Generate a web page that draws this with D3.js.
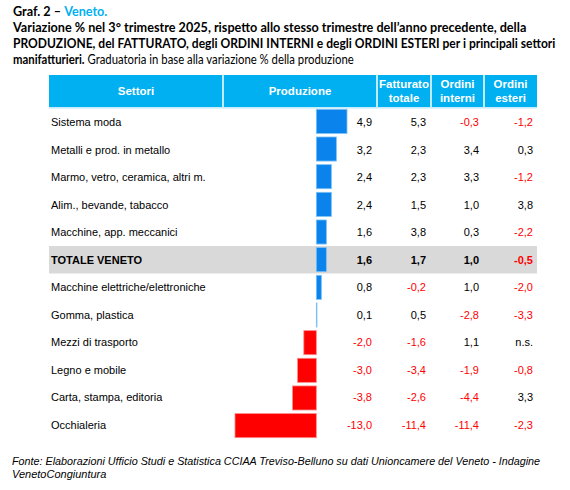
<!DOCTYPE html>
<html><head><meta charset="utf-8">
<script src="https://cdn.jsdelivr.net/npm/d3@7"></script>
<style>body{margin:0;background:#fff}svg{display:block}</style>
</head><body>
<script>
const sectors = ["Sistema moda","Metalli e prod. in metallo","Marmo, vetro, ceramica, altri m.","Alim., bevande, tabacco","Macchine, app. meccanici","TOTALE VENETO","Macchine elettriche/elettroniche","Gomma, plastica","Mezzi di trasporto","Legno e mobile","Carta, stampa, editoria","Occhialeria"];
const produzione = [4.9,3.2,2.4,2.4,1.6,1.6,0.8,0.1,-2.0,-3.0,-3.8,-13.0];
const fatturato = [5.3,2.3,2.3,1.5,3.8,1.7,-0.2,0.5,-1.6,-3.4,-2.6,-11.4];
const ordiniInterni = [-0.3,3.4,3.3,1.0,0.3,1.0,1.0,-2.8,1.1,-1.9,-4.4,-11.4];
const ordiniEsteri = [-1.2,0.3,-1.2,3.8,-2.2,-0.5,-2.0,-3.3,null,-0.8,3.3,-2.3];
const headers = [["Settori"],["Produzione"],["Fatturato","totale"],["Ordini","interni"],["Ordini","esteri"]];
const totalLabel = "TOTALE VENETO";

const W=570,H=490;
const svg=d3.select("body").append("svg").attr("width",W).attr("height",H);
const loc=d3.formatLocale({decimal:",",thousands:".",grouping:[3],currency:["","€"],minus:"-"});
const fmt=loc.format(".1f");
const BLUE_H="#00b0f0";

// Title
function fitLine(parts, x, y, width, size, family){
  const t=svg.append("text").attr("x",0).attr("y",0).attr("font-family",family).attr("font-size",size).attr("fill","#000");
  parts.forEach(p=>t.append("tspan").text(p.t).attr("font-weight",p.b?"bold":"normal").attr("font-style",p.i?"italic":"normal").attr("fill",p.c||"#000"));
  const w=t.node().getComputedTextLength();
  const s=width? width/w : 1;
  t.attr("transform",`translate(${x},${y}) scale(${s},1)`);
  return t;
}
const TF="Lato, 'Open Sans', sans-serif";
fitLine([{t:"Graf. 2 – ",b:1},{t:"Veneto.",b:1,c:BLUE_H}],13,15.7,94,13,TF);
fitLine([{t:"Variazione % nel 3° trimestre 2025, rispetto allo stesso trimestre dell’anno precedente, della",b:1}],13,32,514,13,TF);
fitLine([{t:"PRODUZIONE, del FATTURATO, degli ORDINI INTERNI e degli ORDINI ESTERI per i principali settori",b:1}],13,48,543,13,TF);
fitLine([{t:"manifatturieri.",b:1},{t:" Graduatoria in base alla variazione % della produzione"}],13,63.5,341,13,TF);

// Table geometry
const colEdges=[49,223,377,431,484,537];
const headTop=75, headBot=107;
const y=d3.scaleBand().domain(sectors).range([108.5,438.5]);
const yb=d3.scaleBand().domain(sectors).range([108.5,438.5]).paddingInner(0.13).paddingOuter(0.03);
const x=d3.scaleLinear().domain([-13,4.9]).range([235,347]);

// header
const hg=svg.append("g");
headers.forEach((h,i)=>{
  const x0=colEdges[i]+(i?0.75:0), x1=colEdges[i+1]-(i<4?0.75:0);
  hg.append("rect").attr("x",x0).attr("y",headTop).attr("width",x1-x0).attr("height",headBot-headTop).attr("fill",BLUE_H);
  const cx=(colEdges[i]+colEdges[i+1])/2;
  const t=hg.append("text").attr("text-anchor","middle").attr("font-family","'Liberation Sans', Arial, sans-serif").attr("font-size",11.5).attr("font-weight","bold").attr("fill","#fff");
  if(h.length===1){t.append("tspan").attr("x",cx).attr("y",95).text(h[0]);}
  else{t.append("tspan").attr("x",cx).attr("y",88).text(h[0]);t.append("tspan").attr("x",cx).attr("y",102).text(h[1]);}
});
svg.append("rect").attr("x",49).attr("y",107).attr("width",488).attr("height",1.6).attr("fill","#c6ebfb");

// total row background
svg.append("rect").attr("x",49).attr("y",y(totalLabel)).attr("width",488).attr("height",y.bandwidth()).attr("fill","#d9d9d9");

// bars
const x0=x(0);
svg.append("g").selectAll("rect").data(produzione).join("rect")
  .attr("x",d=>Math.min(x(d),x0)).attr("width",d=>Math.max(Math.abs(x(d)-x0),0.6))
  .attr("y",(d,i)=>yb(sectors[i])).attr("height",yb.bandwidth())
  .attr("fill",d=>d>=0?"#0a84ec":"#ff0000")
  .attr("stroke",d=>d>=0?"#7cc0f6":"#ff8a8a").attr("stroke-width",0.8);

// labels
const FF="'Liberation Sans', Arial, sans-serif";
const rowG=svg.append("g").attr("font-family",FF).attr("font-size",11);
sectors.forEach((s,i)=>{
  const cy=y(s)+y.bandwidth()/2+4;
  const bold=s===totalLabel;
  rowG.append("text").attr("x",51).attr("y",cy).attr("font-weight",bold?"bold":"normal").attr("fill","#000").text(s);
  const cols=[[produzione[i],372],[fatturato[i],426],[ordiniInterni[i],479],[ordiniEsteri[i],533]];
  cols.forEach(([v,cx])=>{
    rowG.append("text").attr("x",cx).attr("y",cy).attr("text-anchor","end")
      .attr("font-weight",bold?"bold":"normal")
      .attr("fill",v!=null&&v<0?"#ff0000":"#000")
      .text(v==null?"n.s.":fmt(v));
  });
});

// footnote
fitLine([{t:"Fonte: Elaborazioni Ufficio Studi e Statistica CCIAA Treviso-Belluno su dati Unioncamere del Veneto - Indagine",i:1}],12,465,529,11,FF);
fitLine([{t:"VenetoCongiuntura",i:1}],12,478,0,11,FF);
</script>
</body></html>
